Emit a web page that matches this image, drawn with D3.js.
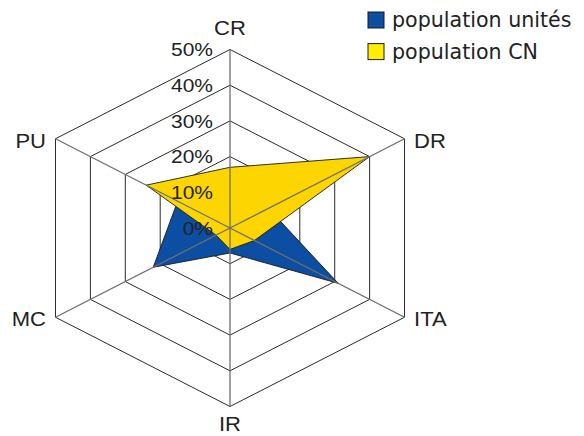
<!DOCTYPE html>
<html><head><meta charset="utf-8">
<script src="https://cdn.jsdelivr.net/npm/d3@7"></script>
<style>html,body{margin:0;padding:0;background:#fff;}svg{display:block;}</style>
</head><body>
<svg id="c" width="584" height="436"></svg>
<script>
const categories = ["CR", "DR", "ITA", "IR", "MC", "PU"];
const popUnites = [10, 11, 31, 7, 22, 15];
const popCN = [17, 40, 7, 6, 4, 24];
const tickValues = [0, 10, 20, 30, 40, 50];
const seriesNames = ["population unités", "population CN"];

const svg = d3.select("#c");
const cx = 230, cy = 228, R = 178.5, kx = 1.129;
const r = d3.scaleLinear().domain([0, 50]).range([0, R]);
const ang = d3.scalePoint().domain(categories).range([0, 300]);
function pt(cat, v) {
  const a = ang(cat) * Math.PI / 180;
  return [cx + r(v) * Math.sin(a) * kx, cy - r(v) * Math.cos(a)];
}
const line = d3.line();

// grid rings
tickValues.filter(t => t > 0).forEach(t => {
  svg.append("path")
    .attr("d", line(categories.map(c => pt(c, t))) + "Z")
    .attr("fill", "none").attr("stroke", "#2a2a2a").attr("stroke-width", 1);
});

// series
const series = [
  {name: seriesNames[0], vals: popUnites, color: "#0b4ea2"},
  {name: seriesNames[1], vals: popCN, color: "#fdd500"}
];
series.forEach(s => {
  svg.append("path")
    .attr("d", line(categories.map((c, i) => pt(c, s.vals[i]))) + "Z")
    .attr("fill", s.color).attr("stroke", "#1a1a1a").attr("stroke-width", 0.9)
    .attr("stroke-linejoin", "miter");
});

// spokes on top
categories.forEach(c => {
  const [x, y] = pt(c, 50);
  svg.append("line").attr("x1", cx).attr("y1", cy).attr("x2", x).attr("y2", y)
    .attr("stroke", "#6e6e6e").attr("stroke-width", 1.3);
});

// tick labels (horizontally stretched like the chart)
tickValues.forEach(t => {
  svg.append("text")
    .attr("transform", `translate(213,${cy - r(t)}) scale(${kx},1)`)
    .attr("dy", "0.36em").attr("text-anchor", "end")
    .attr("font-family", "Liberation Sans, Arial, sans-serif").attr("font-size", 18.6)
    .attr("fill", "#222").text(t + "%");
});

// category labels
categories.forEach(c => {
  const [x, y] = pt(c, 50);
  const a = ang(c);
  let tx = x, ty = y, anchor = "middle";
  if (a === 0) { ty = y - 22; }
  else if (a === 180) { ty = y + 17.5; }
  else if (a < 180) { tx = x + 9.5; anchor = "start"; ty = y + 2; }
  else { tx = x - 9.5; anchor = "end"; ty = y + 2; }
  svg.append("text")
    .attr("transform", `translate(${tx},${ty}) scale(${kx},1)`)
    .attr("dy", "0.36em").attr("text-anchor", anchor)
    .attr("font-family", "Liberation Sans, Arial, sans-serif").attr("font-size", 19.5)
    .attr("fill", "#222").text(c);
});

// legend
const legendColors = ["#0b4ea2", "#ffee00"];
seriesNames.forEach((n, i) => {
  const y0 = 12 + i * 31.6;
  svg.append("rect").attr("x", 368).attr("y", y0).attr("width", 16).attr("height", 16)
    .attr("fill", legendColors[i]).attr("stroke", "#1a1a1a").attr("stroke-width", 1);
  svg.append("text").attr("x", 392).attr("y", y0 + 15)
    .attr("font-family", "DejaVu Sans, Verdana, sans-serif").attr("font-size", 20.6)
    .attr("fill", "#222").text(n);
});
</script>
</body></html>
